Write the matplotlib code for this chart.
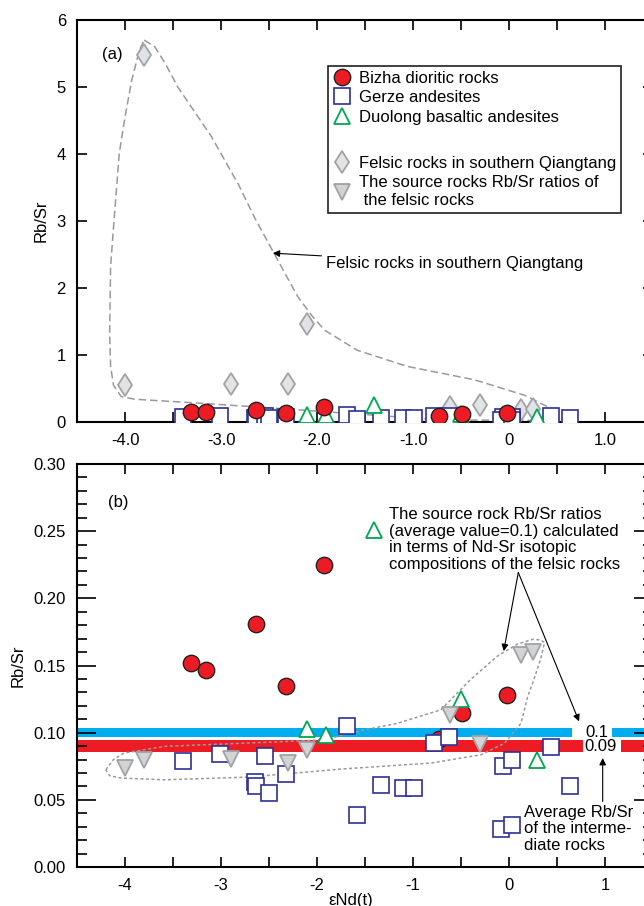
import matplotlib.pyplot as plt
from matplotlib.lines import Line2D
from matplotlib.ticker import MultipleLocator, FixedLocator

plt.rcParams['font.family'] = ['Liberation Sans', 'DejaVu Sans']
plt.rcParams['axes.unicode_minus'] = False

# === data
bizha_x = [-3.31, -3.16, -2.64, -2.32, -1.93, -0.73, -0.49, -0.02]
bizha_y = [0.152, 0.147, 0.181, 0.135, 0.225, 0.095, 0.115, 0.128]

gerze_x = [-3.40, -3.01, -2.65, -2.64, -2.54, -2.50, -2.32, -1.69, -1.58, -1.33,
           -1.10, -0.99, -0.78, -0.62, -0.06, 0.03, -0.08, 0.03, 0.44, 0.64]
gerze_y = [0.0786, 0.0841, 0.0633, 0.0605, 0.0828, 0.0550, 0.0694, 0.1052, 0.0388, 0.0612,
           0.0587, 0.0587, 0.0923, 0.0968, 0.0754, 0.0800, 0.0281, 0.0313, 0.0893, 0.0604]

duolong_x = [-2.10, -1.91, -1.41, -0.50, 0.29]
duolong_y = [0.103, 0.098, 0.251, 0.125, 0.080]

felsic_x = [-4.00, -3.80, -2.90, -2.30, -2.10, -0.61, -0.30, 0.125, 0.25]
felsic_y = [0.55, 5.48, 0.57, 0.56, 1.47, 0.23, 0.25, 0.18, 0.20]
source_y = [0.0737, 0.0799, 0.0806, 0.0774, 0.0868, 0.1134, 0.0918, 0.1575, 0.1604]

# envelope outlines
env_a_x = [-3.80, -3.69, -3.58, -3.45, -3.10, -2.82, -2.65, -2.46, -2.20, -2.05, -1.92, -1.58,
           -1.06, -0.36, 0.16, 0.40, 0.51, 0.44, 0.20, -0.71, -2.17, -3.21, -3.90, -4.04,
           -4.12, -4.15, -4.16, -4.15, -4.12, -4.06, -4.00, -3.93, -3.85, -3.80]
env_a_y = [5.70, 5.60, 5.35, 5.00, 4.26, 3.55, 3.05, 2.55, 1.87, 1.58, 1.37, 1.07,
           0.83, 0.63, 0.40, 0.23, 0.13, 0.04, 0.025, 0.03, 0.18, 0.28, 0.34, 0.38,
           0.55, 0.83, 1.33, 2.32, 2.90, 4.01, 4.55, 5.10, 5.55, 5.70]

env_b_x = [-4.20, -4.12, -4.01, -3.59, -2.72, -2.03, -1.85, -1.51, -1.16, -0.71, -0.40,
           -0.12, 0.09, 0.25, 0.33, 0.37, 0.33, 0.26, 0.195, 0.125, -0.05, -0.29,
           -0.81, -1.75, -2.72, -3.59, -4.04, -4.16, -4.20]
env_b_y = [0.0724, 0.0800, 0.0848, 0.0898, 0.0923, 0.0943, 0.0960, 0.1020, 0.1070, 0.1170, 0.1396,
           0.1570, 0.1660, 0.1695, 0.1690, 0.1670, 0.1550, 0.1396, 0.1270, 0.1070, 0.0920, 0.0836,
           0.0774, 0.0729, 0.0669, 0.0649, 0.0662, 0.0680, 0.0724]

# average bands: (start, width) segments and (bottom, height)
blue_segs = [(-4.5, 5.16), (1.07, 0.5)]
blue_band = (0.0968, 0.0067)
red_segs = [(-4.5, 5.27), (1.17, 0.4)]
red_band = (0.0856, 0.0092)

xticks = [-4, -3, -2, -1, 0, 1]
xlabels_a = ['-4.0', '-3.0', '-2.0', '-1.0', '0', '1.0']
xlabels_b = ['-4', '-3', '-2', '-1', '0', '1']

RED = '#ed1c24'
NAVY = '#2e3192'
GREEN = '#00a651'
GREY_E = '#a0a2a5'
FS = 12

bizha_kw = dict(ls='none', marker='o', ms=11.8, mfc=RED, mec='#231f20', mew=1.0)
gerze_kw = dict(ls='none', marker='s', ms=11.5, mfc='white', mec=NAVY, mew=1.2)
duolong_kw = dict(ls='none', marker='^', ms=12, mfc='white', mec=GREEN, mew=1.3)
felsic_kw = dict(ls='none', marker='d', ms=11.5, mfc='#e2e3e4', mec=GREY_E, mew=1.3)
source_kw = dict(ls='none', marker='v', ms=11.5, mfc='#d1d3d4', mec=GREY_E, mew=1.3)

fig = plt.figure(figsize=(6.44, 9.06), dpi=100)
ax1 = fig.add_axes([77/644, 1-422/906, 576/644, 402/906])
ax2 = fig.add_axes([77/644, 1-867/906, 576/644, 403/906])


def style(ax, labels):
    ax.set_xlim(-4.5, 1.5)
    ax.xaxis.set_major_locator(FixedLocator(xticks))
    ax.set_xticklabels(labels)
    ax.xaxis.set_minor_locator(MultipleLocator(0.5))
    for s in ax.spines.values():
        s.set_linewidth(1.5)
    ax.tick_params(which='both', direction='in', top=True, right=True, width=1.2,
                   labelsize=FS, pad=8)
    ax.tick_params(axis='x', which='both', length=7)
    ax.set_ylabel('Rb/Sr', fontsize=FS, labelpad=6)


# === (a)
style(ax1, xlabels_a)
ax1.set_ylim(0, 6)
ax1.yaxis.set_major_locator(MultipleLocator(1))
ax1.tick_params(axis='y', which='major', length=7)
ax1.plot(env_a_x, env_a_y, color='#9a9a9a', lw=1.1, ls=(0, (5, 2.5)), zorder=2)
ax1.plot(felsic_x, felsic_y, zorder=3, **felsic_kw)
ax1.plot(gerze_x, gerze_y, zorder=4, **gerze_kw)
ax1.plot(duolong_x, duolong_y, zorder=5, **duolong_kw)
ax1.plot(bizha_x, bizha_y, zorder=6, **bizha_kw)
ax1.text(-4.135, 5.48, '(a)', fontsize=FS, ha='center', va='center')
ax1.annotate('Felsic rocks in southern Qiangtang', xy=(-2.46, 2.52), xytext=(-1.91, 2.37),
             fontsize=FS, ha='left', va='center',
             arrowprops=dict(arrowstyle='-|>', color='k', lw=0.8, mutation_scale=10,
                             shrinkA=1, shrinkB=0))

handles = [Line2D([], [], **bizha_kw), Line2D([], [], **gerze_kw), Line2D([], [], **duolong_kw),
           Line2D([], [], ls='none'), Line2D([], [], **felsic_kw), Line2D([], [], **source_kw)]
labels = ['Bizha dioritic rocks', 'Gerze andesites', 'Duolong basaltic andesites', ' ',
          'Felsic rocks in southern Qiangtang', 'The source rocks Rb/Sr ratios of\n the felsic rocks']
leg = ax1.legend(handles, labels, loc='upper left', bbox_to_anchor=(0.436, 0.886), borderaxespad=0,
                 fontsize=FS, frameon=True, fancybox=False, edgecolor='#231f20', framealpha=1,
                 handlelength=1.08, handletextpad=0.48, borderpad=0.3, labelspacing=0.27)
leg.get_frame().set_linewidth(1.2)
leg.get_texts()[3].set_fontsize(17)
leg.get_texts()[5].set_linespacing(1.2)

# === (b)
style(ax2, xlabels_b)
ax2.set_ylim(0, 0.30)
ax2.yaxis.set_major_locator(MultipleLocator(0.05))
ax2.yaxis.set_minor_locator(MultipleLocator(0.01))
ax2.yaxis.set_major_formatter('{x:.2f}')
ax2.tick_params(axis='y', which='major', length=14)
ax2.tick_params(axis='y', which='minor', length=7)
ax2.broken_barh(blue_segs, blue_band, facecolor='#00aeef', edgecolor='none', zorder=1)
ax2.broken_barh(red_segs, red_band, facecolor=RED, edgecolor='none', zorder=1)
ax2.plot(env_b_x, env_b_y, color='#9a9a9a', lw=1.1, ls=(0, (2, 1.6)), zorder=2)
ax2.plot(bizha_x, bizha_y, zorder=3, **bizha_kw)
ax2.plot(gerze_x, gerze_y, zorder=4, **gerze_kw)
ax2.plot(duolong_x, duolong_y, zorder=5, **duolong_kw)
ax2.plot(felsic_x, source_y, zorder=6, **source_kw)
ax2.text(-4.068, 0.2716, '(b)', fontsize=FS, ha='center', va='center')
ax2.text(0.80, 0.1004, '0.1', fontsize=FS, ha='left', va='center')
ax2.text(0.79, 0.0899, '0.09', fontsize=FS, ha='left', va='center')

arrow = dict(arrowstyle='-|>', color='k', lw=0.8, mutation_scale=10, shrinkA=0, shrinkB=0)
ax2.text(-1.247, 0.2437, 'The source rock Rb/Sr ratios\n(average value=0.1) calculated\n'
         'in terms of Nd-Sr isotopic\ncompositions of the felsic rocks',
         fontsize=FS, ha='left', va='center', linespacing=1.14)
ax2.annotate('', xy=(-0.055, 0.1607), xytext=(0.097, 0.2192), arrowprops=arrow)
ax2.annotate('', xy=(0.73, 0.1084), xytext=(0.097, 0.2192), arrowprops=arrow)
ax2.text(0.153, 0.0284, 'Average Rb/Sr\nof the interme-\ndiate rocks', fontsize=FS,
         ha='left', va='center', linespacing=1.14)
ax2.annotate('', xy=(0.976, 0.0811), xytext=(0.976, 0.0487), arrowprops=arrow)

fig.text(351/644, 1-900/906, 'εNd(t)', fontsize=FS, ha='center', va='center')

fig.savefig('out.png', dpi=100, facecolor='white')
